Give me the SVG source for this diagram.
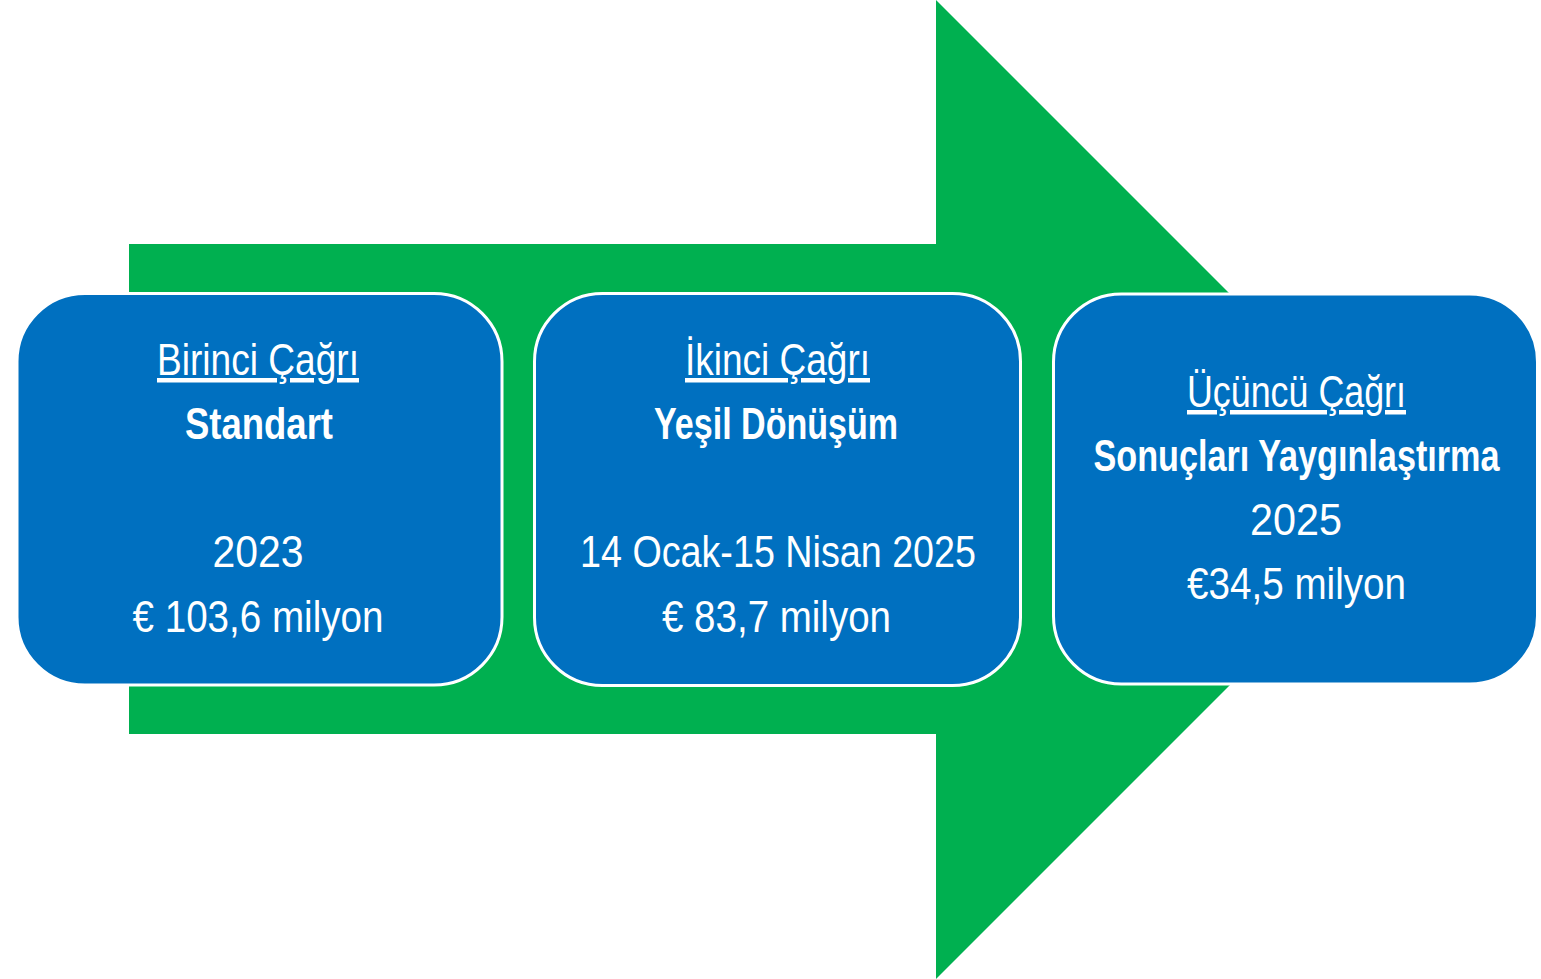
<svg xmlns="http://www.w3.org/2000/svg" width="1541" height="979" viewBox="0 0 1541 979">
<style>
.box{fill:#0070C0;stroke:#FFFFFF;stroke-width:3}
.t{font-family:"Liberation Sans",Arial,sans-serif;font-size:45px;fill:#FFFFFF;text-anchor:middle}
.b{font-weight:bold}
.u{text-decoration:underline}
</style>
<rect width="1541" height="979" fill="#FFFFFF"/>
<g id="arrow">
<polygon points="129,244 936,244 936,0 1425.5,489.5 936,979 936,734 129,734" fill="#00B050"/>
</g>
<g id="connectors"></g>
<g id="node1">
<rect class="box" x="17" y="293.5" width="485" height="391.5" rx="68" ry="68"/>
<text class="t u" x="258" y="375" textLength="202" lengthAdjust="spacingAndGlyphs">Birinci Çağrı</text>
<text class="t b" x="259" y="439" textLength="148" lengthAdjust="spacingAndGlyphs">Standart</text>
<text class="t" x="258" y="567" textLength="91" lengthAdjust="spacingAndGlyphs">2023</text>
<text class="t" x="258" y="632" textLength="251" lengthAdjust="spacingAndGlyphs">€ 103,6 milyon</text>
</g>
<g id="node2">
<rect class="box" x="534.5" y="293.5" width="486" height="392" rx="68" ry="68"/>
<text class="t u" x="777.5" y="375" textLength="185" lengthAdjust="spacingAndGlyphs">İkinci Çağrı</text>
<text class="t b" x="776" y="439" textLength="244" lengthAdjust="spacingAndGlyphs">Yeşil Dönüşüm</text>
<text class="t" x="778" y="567" textLength="396" lengthAdjust="spacingAndGlyphs">14 Ocak-15 Nisan 2025</text>
<text class="t" x="776.5" y="632" textLength="229" lengthAdjust="spacingAndGlyphs">€ 83,7 milyon</text>
</g>
<g id="node3">
<rect class="box" x="1053.5" y="294" width="484" height="390" rx="68" ry="68"/>
<text class="t u" x="1296.5" y="407" textLength="219" lengthAdjust="spacingAndGlyphs">Üçüncü Çağrı</text>
<text class="t b" x="1296.5" y="471" textLength="406" lengthAdjust="spacingAndGlyphs">Sonuçları Yaygınlaştırma</text>
<text class="t" x="1296" y="535" textLength="92" lengthAdjust="spacingAndGlyphs">2025</text>
<text class="t" x="1296.5" y="599" textLength="219" lengthAdjust="spacingAndGlyphs">€34,5 milyon</text>
</g>
</svg>
